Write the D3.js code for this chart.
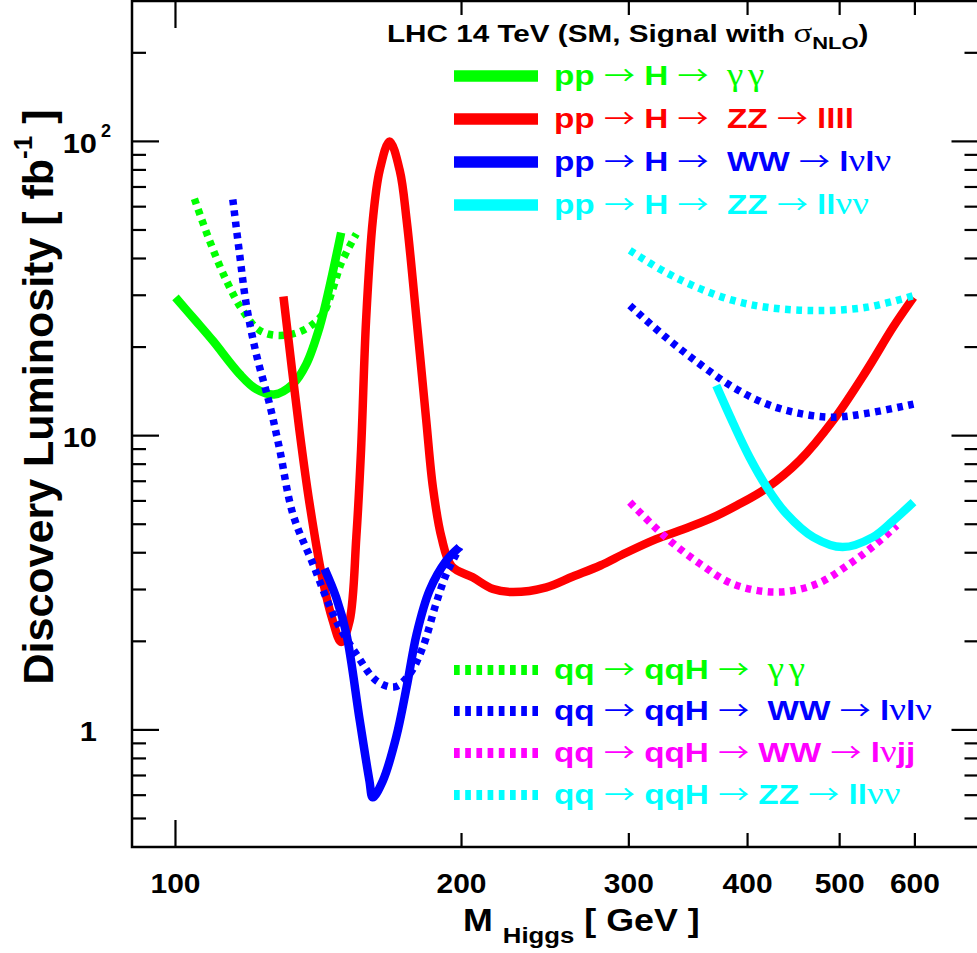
<!DOCTYPE html>
<html><head><meta charset="utf-8">
<script src="https://cdn.jsdelivr.net/npm/d3@7"></script>
<style>
html,body{margin:0;padding:0;background:#fff;overflow:hidden}
text{white-space:pre}
</style></head><body>
<svg id="c" width="977" height="953" xmlns="http://www.w3.org/2000/svg"></svg>
<script>
// ---- data: [M_Higgs (GeV), discovery luminosity (fb^-1)] ----
const ggH_gamgam = [[100,29.5],[105,24.6],[109.5,21.0],[116.8,16.2],[121.6,14.4],[127,13.8],[133,15.0],[137.3,17.5],[141.8,23.4],[145.2,31.9],[149.4,49]];
const ggH_ZZ4l = [[129.9,29.7],[135,10.5],[138.4,5.87],[142.9,3.22],[146.4,2.35],[149.4,1.99],[152.5,2.35],[155,4.52],[156.8,9.0],[158.7,24.6],[161.3,53.9],[164,79.6],[168,100],[172.2,79.6],[175.1,53.9],[179.4,24.6],[183.6,11.3],[186.6,6.68],[190.5,4.52],[195.3,3.6],[205.5,3.30],[215.9,3.01],[226.4,2.94],[245.6,3.05],[262,3.32],[280,3.62],[298,4.0],[320.5,4.45],[339.4,4.76],[364.9,5.21],[390,5.8],[419,6.64],[453.7,8.23],[492.5,11.3],[533.4,16.6],[569.2,23.4],[598,29.5]];
const ggH_WWlvlv = [[143.5,3.53],[147.6,2.82],[151.3,2.12],[156.3,1.075],[160,0.672],[161.3,0.59],[165.3,0.672],[170.7,0.944],[175.1,1.40],[179.4,2.12],[185.1,2.98],[192.8,3.76],[199,4.18]];
const ggH_ZZllvv = [[370.8,14.8],[386.4,11.0],[401.9,8.45],[419.1,6.68],[439.6,5.42],[469,4.52],[503.6,4.18],[541.9,4.52],[569.2,5.14],[598,5.94]];
const qqH_gamgam = [[104.7,63.8],[108.6,46],[113.1,33.7],[117.7,26.6],[122.6,22.8],[128.7,21.9],[136.2,22.8],[142.9,25.9],[146.4,31.5],[149.4,38.5],[155,48.5]];
const qqH_WWlvlv_low = [[114.9,63.5],[116.8,41.5],[118.7,28.0],[121.6,19.0],[125.6,12.8],[128.7,9.0],[132.9,5.42],[139.5,3.67],[147.6,2.35],[155,1.81],[162.7,1.47],[170.1,1.40],[176.4,1.55],[182.1,1.91],[188,2.68],[192.8,3.39],[199.2,4.18]];
const qqH_WWlvlv_high = [[300.7,27.7],[328,21.6],[356.4,17.5],[386.4,14.6],[419.1,12.8],[453.7,11.9],[492.5,11.55],[533.4,11.9],[598,12.8]];
const qqH_WWlvjj = [[300.7,5.94],[328,4.52],[356.4,3.67],[386.4,3.13],[429.2,2.94],[472.7,3.13],[512.4,3.67],[546.3,4.29],[574.3,4.95]];
const qqH_ZZllvv = [[300.7,42.6],[328,35.9],[356.4,31.6],[386.4,28.8],[419.1,27.3],[472.7,26.6],[533.4,27.3],[598,29.9]];

const xTickValues = [100,200,300,400,500,600];
const xTickLabels = ["100","200","300","400","500","600"];
const yTickValues = [1,10,100];
const yTickLabels = ["1","10","10"];
const yTickExponents = ["","","2"];

const legendTopLabels = ["pp → H →  γγ","pp → H →  ZZ → llll","pp → H →  WW → lνlν","pp → H →  ZZ → llνν"];
const legendTopColors = ["#00ff00","#ff0000","#0000ff","#00ffff"];
const legendBottomLabels = ["qq → qqH →  γγ","qq → qqH →  WW → lνlν","qq → qqH → WW → lνjj","qq → qqH → ZZ → llνν"];
const legendBottomColors = ["#00ff00","#0000ff","#ff00ff","#00ffff"];

const titleText = "LHC 14 TeV (SM, Signal with ";

// ---- drawing ----
const svg = d3.select("#c");
const SANS = "'Liberation Sans', Arial, Helvetica, sans-serif";
const SERIF = "'Liberation Serif', 'DejaVu Serif', serif";
const ARROW = "'Noto Sans CJK SC', 'DejaVu Sans', sans-serif";

const x = d3.scaleLog().domain([90,700]).range([132,978.5]);
const y = d3.scaleLog().domain([0.4,300]).range([847,1]);
const X0=132, X1=978.5, Y0=847, Y1=1;

const DASH = "5.7 5.5";
const series = [
  {d:ggH_gamgam, c:"#00ff00", dash:false},
  {d:qqH_gamgam, c:"#00ff00", dash:true},
  {d:ggH_ZZ4l, c:"#ff0000", dash:false},
  {d:ggH_WWlvlv, c:"#0000ff", dash:false},
  {d:qqH_WWlvlv_low, c:"#0000ff", dash:true},
  {d:qqH_WWlvlv_high, c:"#0000ff", dash:true},
  {d:qqH_WWlvjj, c:"#ff00ff", dash:true},
  {d:qqH_ZZllvv, c:"#00ffff", dash:true},
  {d:ggH_ZZllvv, c:"#00ffff", dash:false}
];
const line = d3.line().x(d=>x(d[0])).y(d=>y(d[1])).curve(d3.curveCatmullRom.alpha(0.5));
const gCurves = svg.append("g");
series.forEach(s=>{
  gCurves.append("path").attr("d", line(s.d)).attr("fill","none")
    .attr("stroke", s.c).attr("stroke-width", s.dash?7.5:8.5)
    .attr("stroke-linejoin","round")
    .attr("stroke-dasharray", s.dash?DASH:null);
});

// frame
svg.append("rect").attr("x",X0).attr("y",Y1).attr("width",X1-X0).attr("height",Y0-Y1)
  .attr("fill","none").attr("stroke","#000").attr("stroke-width",2.5);

// x ticks
const gAx = svg.append("g").attr("stroke","#000").attr("stroke-width",2.2);
xTickValues.forEach(v=>{
  const len = (Math.abs(Math.log10(v)-Math.round(Math.log10(v)))<1e-9)?27:14;
  gAx.append("line").attr("x1",x(v)).attr("x2",x(v)).attr("y1",Y0).attr("y2",Y0-len);
  gAx.append("line").attr("x1",x(v)).attr("x2",x(v)).attr("y1",Y1).attr("y2",Y1+len);
});
// y ticks (log minor + major)
y.ticks().filter(v=>v>0.41 && v<290).forEach(v=>{
  const len = (Math.abs(Math.log10(v)-Math.round(Math.log10(v)))<1e-9)?27:14;
  gAx.append("line").attr("x1",X0).attr("x2",X0+len).attr("y1",y(v)).attr("y2",y(v));
  gAx.append("line").attr("x1",X1).attr("x2",X1-len).attr("y1",y(v)).attr("y2",y(v));
});

// x tick labels
xTickValues.forEach((v,i)=>{
  svg.append("text").attr("transform",`translate(${x(v)},893) scale(1.07,1)`)
    .attr("text-anchor","middle").attr("font-family",SANS).attr("font-weight","bold")
    .attr("font-size",28).text(xTickLabels[i]);
});
// y tick labels
yTickValues.forEach((v,i)=>{
  svg.append("text").attr("transform",`translate(97,${y(v)+11.5}) scale(1.1,1)`)
    .attr("text-anchor","end").attr("font-family",SANS).attr("font-weight","bold")
    .attr("font-size",28).text(yTickLabels[i]);
  if(yTickExponents[i]){
    svg.append("text").attr("x",101).attr("y",y(v)-4).attr("font-family",SANS)
      .attr("font-weight","bold").attr("font-size",18).text(yTickExponents[i]);
  }
});

// axis titles
const xt = svg.append("text").attr("transform","translate(463,931) scale(1.12,1)")
  .attr("font-family",SANS).attr("font-weight","bold").attr("font-size",32);
xt.append("tspan").text("M ");
xt.append("tspan").attr("font-size",23).attr("dy",12).text("Higgs");
xt.append("tspan").attr("dy",-12).text(" [ GeV ]");

const yt = svg.append("text").attr("transform","translate(53,397) rotate(-90)")
  .attr("text-anchor","middle").attr("font-family",SANS).attr("font-weight","bold").attr("font-size",43);
yt.append("tspan").text("Discovery Luminosity [ fb");
yt.append("tspan").attr("font-size",26).attr("dy",-21).text("-1");
yt.append("tspan").attr("dy",21).text(" ]");

// title
const tt = svg.append("text").attr("transform","translate(387,42) scale(1.29,1)")
  .attr("font-family",SANS).attr("font-weight","bold").attr("font-size",23).attr("fill","#000");
tt.append("tspan").text(titleText);
tt.append("tspan").attr("font-family",SERIF).attr("font-weight","normal").attr("font-size",27).text("σ");
tt.append("tspan").attr("font-size",17).attr("dy",7).text("NLO");
tt.append("tspan").attr("dy",-7).text(")");

// rich legend text
function rich(sel, str){
  const re = /(→)|([γνσ]+)|([^→γνσ]+)/g; let m;
  while((m = re.exec(str))){
    const sp = sel.append("tspan");
    if(m[1]){ sp.attr("font-family",ARROW).attr("font-weight","normal").attr("font-size",26).text(m[1]); }
    else if(m[2]){
      sp.attr("font-family",SERIF).attr("font-weight","normal").attr("font-size",31).text(m[2]);
      if(m[2]==="γγ") sp.attr("letter-spacing",4);
    }
    else { sp.text(m[3]); }
  }
}
function legendRow(ly, label, color, dashed){
  svg.append("line").attr("x1",454).attr("x2",538).attr("y1",ly).attr("y2",ly)
    .attr("stroke",color).attr("stroke-width",dashed?10:11.5)
    .attr("stroke-dasharray",dashed?DASH:null);
  const t = svg.append("text").attr("transform",`translate(554,${ly+9}) scale(1.19,1)`)
    .attr("font-family",SANS).attr("font-weight","bold").attr("font-size",28).attr("fill",color);
  rich(t, label);
}
const topRows=[76,119,162,205], botRows=[670,711,753,795];
legendTopLabels.forEach((l,i)=>legendRow(topRows[i], l, legendTopColors[i], false));
legendBottomLabels.forEach((l,i)=>legendRow(botRows[i], l, legendBottomColors[i], true));
</script>
</body></html>
